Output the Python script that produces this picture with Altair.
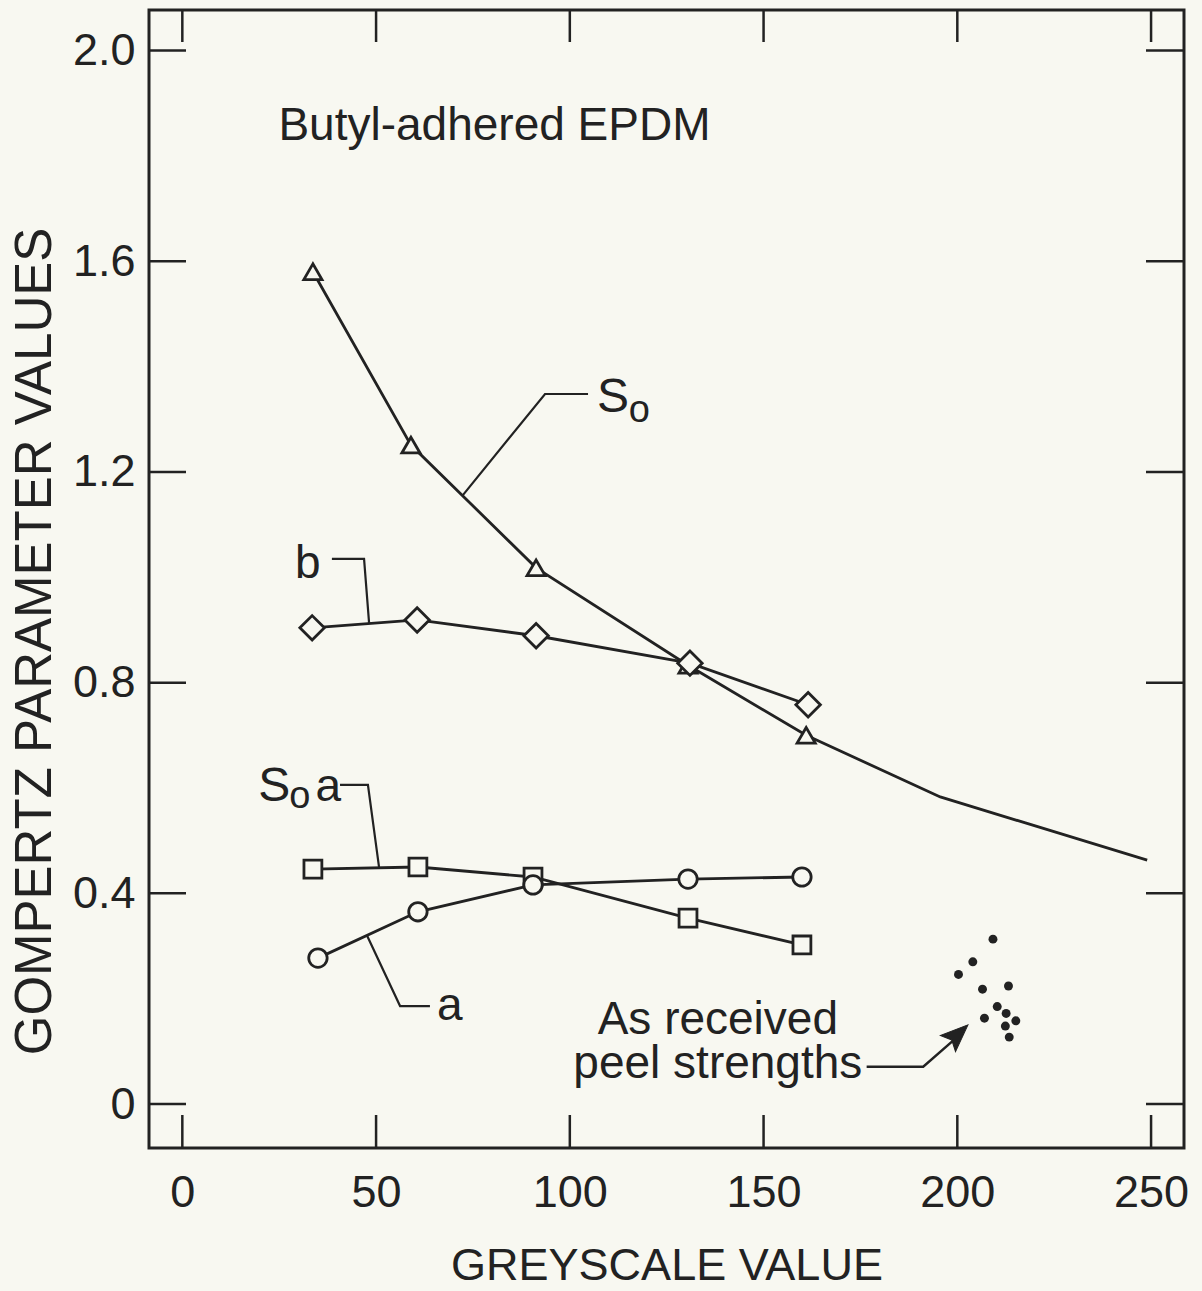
import altair as alt
import pandas as pd

# ---- data ----
so_x = [33.7, 59.0, 91.3, 130.5, 161.0]
so_y = [1.58, 1.251, 1.018, 0.833, 0.700]
so_line_x = [33.7, 59.0, 91.3, 130.5, 161.0, 195.6, 249.0]
so_line_y = [1.58, 1.251, 1.018, 0.833, 0.700, 0.583, 0.463]

b_x = [33.5, 60.6, 91.3, 131.0, 161.5]
b_y = [0.904, 0.919, 0.889, 0.837, 0.758]

soa_x = [33.7, 60.8, 90.5, 130.5, 159.9]
soa_y = [0.446, 0.450, 0.431, 0.353, 0.302]

a_x = [35.0, 60.8, 90.5, 130.5, 159.9]
a_y = [0.277, 0.365, 0.416, 0.427, 0.431]

peel_x = [209.2, 204.0, 200.3, 206.5, 213.2, 210.3, 212.6, 215.1, 207.0, 212.4, 213.4]
peel_y = [0.313, 0.270, 0.246, 0.218, 0.224, 0.185, 0.172, 0.158, 0.163, 0.148, 0.127]

x_ticks = [0, 50, 100, 150, 200, 250]
y_ticks = [0, 0.4, 0.8, 1.2, 1.6, 2.0]

# annotation leader lines (data units)
lead_so_x = [104.7, 93.6, 72.4]
lead_so_y = [1.348, 1.348, 1.156]
lead_b_x = [38.6, 46.9, 48.2]
lead_b_y = [1.035, 1.035, 0.913]
lead_soa_x = [40.7, 47.9, 50.8]
lead_soa_y = [0.606, 0.606, 0.448]
lead_a_x = [47.6, 56.2, 63.9]
lead_a_y = [0.321, 0.186, 0.186]
lead_peel_x = [176.6, 191.2, 201.5]
lead_peel_y = [0.0708, 0.0708, 0.137]

W, H = 1035, 1138
XD = [-8.6, 258.5]
YD = [-0.0835, 2.077]
BG = "#f8f8f1"
INK = "#222222"
FONT = "Liberation Sans"

xs = alt.Scale(domain=XD, nice=False, zero=False)
ys = alt.Scale(domain=YD, nice=False, zero=False)


def df(x, y, **kw):
    d = pd.DataFrame({"x": x, "y": y})
    for k, v in kw.items():
        d[k] = v
    return d


def line(x, y, sw=2.8):
    d = df(x, y)
    d["o"] = range(len(d))
    return alt.Chart(d).mark_line(color=INK, strokeWidth=sw, strokeJoin="miter").encode(
        x=alt.X("x:Q", scale=xs), y=alt.Y("y:Q", scale=ys), order="o:Q")


def pts(x, y, shape, size):
    return alt.Chart(df(x, y)).mark_point(
        shape=shape, size=size, filled=False, fill=BG, fillOpacity=1,
        stroke=INK, strokeWidth=2.8, opacity=1).encode(
        x=alt.X("x:Q", scale=xs), y=alt.Y("y:Q", scale=ys))


def txt(x, y, s, size=46, align="left"):
    return alt.Chart(pd.DataFrame({"x": [x], "y": [y], "t": [s]})).mark_text(
        font=FONT, fontSize=size, color=INK, align=align, baseline="alphabetic").encode(
        x=alt.X("x:Q", scale=xs), y=alt.Y("y:Q", scale=ys), text="t:N")


base = alt.Chart(pd.DataFrame({"x": [0.0], "y": [0.0]})).mark_point(opacity=0).encode(
    x=alt.X("x:Q", scale=xs, title="GREYSCALE VALUE",
            axis=alt.Axis(values=x_ticks, ticks=False, tickSize=0, domain=False, grid=False,
                          labelFont=FONT, labelFontSize=45, labelColor=INK, labelPadding=22,
                          titleFont=FONT, titleFontSize=45, titleFontWeight="normal",
                          titleColor=INK, titlePadding=28)),
    y=alt.Y("y:Q", scale=ys, title="GOMPERTZ PARAMETER VALUES",
            axis=alt.Axis(values=y_ticks, ticks=False, tickSize=0, domain=False, grid=False,
                          labelExpr="datum.value == 0 ? '0' : format(datum.value, '.1f')",
                          labelFont=FONT, labelFontSize=45, labelColor=INK, labelPadding=14,
                          titleFont=FONT, titleFontSize=51, titleFontWeight="normal",
                          titleColor=INK, titleX=-114, titleY=631,
                          titleBaseline="middle", titleAlign="center", titleAngle=270)),
)

xt = pd.DataFrame({"x": x_ticks})
yt = pd.DataFrame({"y": y_ticks})
tick_bottom = alt.Chart(xt).mark_rule(color=INK, strokeWidth=2.5).encode(
    x=alt.X("x:Q", scale=xs), y=alt.value(H), y2=alt.value(H - 33))
tick_top = alt.Chart(xt).mark_rule(color=INK, strokeWidth=2.5).encode(
    x=alt.X("x:Q", scale=xs), y=alt.value(0), y2=alt.value(32))
tick_left = alt.Chart(yt).mark_rule(color=INK, strokeWidth=2.5).encode(
    y=alt.Y("y:Q", scale=ys), x=alt.value(0), x2=alt.value(37))
tick_right = alt.Chart(yt).mark_rule(color=INK, strokeWidth=2.5).encode(
    y=alt.Y("y:Q", scale=ys), x=alt.value(W), x2=alt.value(W - 38))

arrow_head = alt.Chart(df([199.8], [0.130])).mark_point(
    shape="M0,-1.2L0.85,0.9L0,0.5L-0.85,0.9Z", size=680, filled=True, fill=INK, stroke=INK,
    strokeWidth=1, opacity=1, angle=47).encode(
    x=alt.X("x:Q", scale=xs), y=alt.Y("y:Q", scale=ys))

peel = alt.Chart(df(peel_x, peel_y)).mark_point(
    shape="circle", size=80, filled=True, fill=INK, opacity=1).encode(
    x=alt.X("x:Q", scale=xs), y=alt.Y("y:Q", scale=ys))

layers = [
    base,
    tick_bottom, tick_top, tick_left, tick_right,
    line(so_line_x, so_line_y),
    line(b_x, b_y),
    line(soa_x, soa_y),
    line(a_x, a_y),
    line(lead_so_x, lead_so_y, sw=2.2),
    line(lead_b_x, lead_b_y, sw=2.2),
    line(lead_soa_x, lead_soa_y, sw=2.2),
    line(lead_a_x, lead_a_y, sw=2.2),
    line(lead_peel_x, lead_peel_y, sw=2.4),
    arrow_head,
    pts(so_x, so_y, "triangle-up", 330),
    pts(b_x, b_y, "diamond", 600),
    pts(soa_x, soa_y, "square", 320),
    pts(a_x, a_y, "circle", 340),
    peel,
    txt(24.8, 1.830, "Butyl-adhered EPDM"),
    txt(107.0, 1.314, "S", 48),
    txt(115.2, 1.295, "o", 38),
    txt(29.1, 0.999, "b", 46),
    txt(19.6, 0.575, "S", 48),
    txt(27.6, 0.562, "o", 38),
    txt(34.4, 0.575, "a", 46),
    txt(65.7, 0.159, "a", 46),
    txt(138.2, 0.133, "As received", 46, "center"),
    txt(138.2, 0.049, "peel strengths", 46, "center"),
]

chart = alt.layer(*layers).properties(
    width=W, height=H,
    autosize=alt.AutoSizeParams(type="none"),
    padding={"left": 149, "top": 10, "right": 18, "bottom": 143},
    background=BG,
).configure_view(stroke=INK, strokeWidth=3)

chart.save("out.html", embed_options={"renderer": "svg", "actions": False})
